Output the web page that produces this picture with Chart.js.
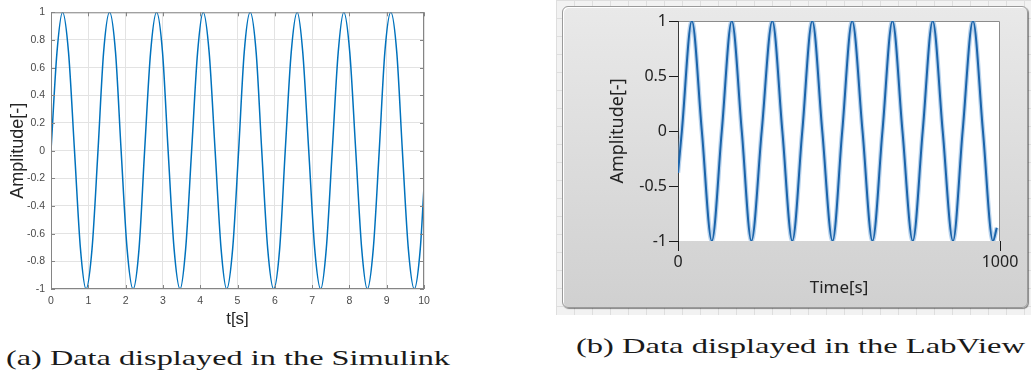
<!DOCTYPE html>
<html>
<head>
<meta charset="utf-8">
<script src="https://cdn.jsdelivr.net/npm/chart.js@4.4.1/dist/chart.umd.min.js"></script>
<style>
  html, body { margin: 0; padding: 0; background: #fff; }
  body { width: 1031px; height: 380px; position: relative; overflow: hidden; }
  #simBox { position: absolute; left: 0; top: 0; width: 440px; height: 335px; }
  #gridBg {
    position: absolute; left: 556px; top: 0; width: 475px; height: 315px;
    background-color: #f2f2f2;
    background-image:
      repeating-linear-gradient(to right, #dedede 0, #dedede 1px, transparent 1px, transparent 18px),
      repeating-linear-gradient(to bottom, #dedede 0, #dedede 1px, transparent 1px, transparent 18px);
  }
  #panel {
    position: absolute; left: 562px; top: 6px; width: 464px; height: 300px;
    border: 1px solid #9a9a9a; border-radius: 6px;
    background: linear-gradient(to bottom, #e9e9e9, #d0d0d0);
    box-shadow: inset 1px 1px 0 #fff, 1px 1px 1px rgba(0,0,0,0.45);
  }
  #lvBox { position: absolute; left: 0; top: 0; width: 464px; height: 300px; }
  .cap {
    position: absolute; font-family: "Liberation Serif", "Times New Roman", serif; font-size: 22px;
    line-height: 22px; color: #1a1a1a; white-space: nowrap; transform-origin: left top;
  }
</style>
</head>
<body>
<div id="simBox"><canvas id="simChart"></canvas></div>
<div id="gridBg"></div>
<div id="panel"><div id="lvBox"><canvas id="lvChart"></canvas></div></div>
<div class="cap" id="capA" style="left:6px; top:347px;">(a) Data displayed in the Simulink</div>
<div class="cap" id="capB" style="left:576px; top:335px;">(b) Data displayed in the LabView</div>

<script>
// ---- (a) Simulink scope: values ----
const simTime = [0, 0.16, 0.31, 0.47, 0.63, 0.79, 0.94, 1.10, 1.26, 1.41, 1.57, 1.73, 1.88, 2.04,
  2.20, 2.36, 2.51, 2.67, 2.83, 2.99, 3.14, 3.30, 3.46, 3.61, 3.77, 3.93, 4.08, 4.24, 4.40, 4.56,
  4.71, 4.87, 5.03, 5.18, 5.34, 5.50, 5.65, 5.81, 5.97, 6.13, 6.28, 6.44, 6.60, 6.75, 6.91, 7.07,
  7.23, 7.38, 7.54, 7.70, 7.85, 8.01, 8.17, 8.33, 8.48, 8.64, 8.80, 8.95, 9.11, 9.27, 9.42, 9.58,
  9.74, 9.90, 10.0];
const simAmp = [0, 0.71, 1, 0.71, 0, -0.71, -1, -0.71, 0, 0.71, 1, 0.71, 0, -0.71,
  -1, -0.71, 0, 0.71, 1, 0.71, 0, -0.71, -1, -0.71, 0, 0.71, 1, 0.71, 0, -0.71,
  -1, -0.71, 0, 0.71, 1, 0.71, 0, -0.71, -1, -0.71, 0, 0.71, 1, 0.71, 0, -0.71,
  -1, -0.71, 0, 0.71, 1, 0.71, 0, -0.71, -1, -0.71, 0, 0.71, 1, 0.71, 0, -0.71,
  -1, -0.71, -0.26];
const simXTicks = [0, 1, 2, 3, 4, 5, 6, 7, 8, 9, 10];

// ---- (b) LabView graph ----
const lvTime = [0, 12, 43, 74, 105, 136, 167, 198, 228, 260, 293, 324, 355, 386, 417, 448,
  480, 510, 541, 573, 604, 635, 666, 697, 729, 760, 791, 822, 854, 884, 916, 947, 978, 990];
const lvAmp = [-0.38, 0, 1, 0, -1, 0, 1, 0, -1, 0, 1, 0, -1, 0, 1, 0,
  -1, 0, 1, 0, -1, 0, 1, 0, -1, 0, 1, 0, -1, 0, 1, 0, -1, -0.88];
const lvXTicks = [0, 1000];
const lvYTicks = [-1, -0.5, 0, 0.5, 1];

const toXY = (xs, ys) => xs.map((x, i) => ({ x: x, y: ys[i] }));
const fmt = v => String(Number(v.toFixed(2)));

// box + inward ticks, MATLAB style
const matlabBox = {
  id: 'matlabBox',
  afterDraw(chart) {
    const { ctx, chartArea: a, scales } = chart;
    ctx.save();
    ctx.strokeStyle = '#858585';
    ctx.lineWidth = 1;
    ctx.strokeRect(a.left + 0.5, a.top + 0.5, a.right - a.left - 1, a.bottom - a.top - 1);
    ctx.beginPath();
    scales.x.ticks.forEach(t => {
      const px = Math.round(scales.x.getPixelForValue(t.value)) + 0.5;
      ctx.moveTo(px, a.top); ctx.lineTo(px, a.top + 4);
      ctx.moveTo(px, a.bottom); ctx.lineTo(px, a.bottom - 4);
    });
    scales.y.ticks.forEach(t => {
      const py = Math.round(scales.y.getPixelForValue(t.value)) + 0.5;
      ctx.moveTo(a.left, py); ctx.lineTo(a.left + 4, py);
      ctx.moveTo(a.right, py); ctx.lineTo(a.right - 4, py);
    });
    ctx.stroke();
    ctx.restore();
  }
};

new Chart(document.getElementById('simChart'), {
  type: 'line',
  data: {
    datasets: [{
      data: toXY(simTime, simAmp),
      borderColor: '#0072bd',
      borderWidth: 1.5,
      pointRadius: 0,
      cubicInterpolationMode: 'monotone',
      fill: false
    }]
  },
  options: {
    responsive: true,
    maintainAspectRatio: false,
    animation: false,
    events: [],
    layout: { padding: { left: 0, top: 12, right: 16, bottom: 0 } },
    plugins: { legend: { display: false }, tooltip: { enabled: false } },
    scales: {
      x: {
        type: 'linear', min: 0, max: 10,
        afterBuildTicks: s => { s.ticks = simXTicks.map(v => ({ value: v })); },
        afterFit: s => { s.height = 46; },
        grid: { color: '#e3e3e3', drawTicks: false },
        border: { display: false },
        ticks: { color: '#4a4a4a', padding: 6, maxRotation: 0, autoSkip: false,
          font: { family: 'Liberation Sans', size: 10.5 }, callback: v => fmt(v) },
        title: { display: true, text: 't[s]', color: '#262626',
          font: { family: 'Liberation Sans', size: 17 }, padding: { top: 0, bottom: 5 } }
      },
      y: {
        min: -1, max: 1,
        ticks: { stepSize: 0.2, color: '#4a4a4a', padding: 6,
          font: { family: 'Liberation Sans', size: 10.5 }, callback: v => fmt(v) },
        afterFit: s => { s.width = 51; },
        grid: { color: '#e3e3e3', drawTicks: false },
        border: { display: false },
        title: { display: true, text: 'Amplitude[-]', color: '#262626',
          font: { family: 'Liberation Sans', size: 18 }, padding: { top: 7, bottom: 0 } }
      }
    }
  },
  plugins: [matlabBox]
});

// white plot area and frame, LabView style
const lvFrame = {
  id: 'lvFrame',
  beforeDatasetsDraw(chart) {
    const { ctx, chartArea: a } = chart;
    ctx.save();
    ctx.fillStyle = '#ffffff';
    ctx.fillRect(a.left, a.top, a.right - a.left, a.bottom - a.top);
    ctx.strokeStyle = '#8c8c8c';
    ctx.lineWidth = 1;
    ctx.beginPath();
    ctx.moveTo(a.left, a.top + 0.5); ctx.lineTo(a.right - 0.5, a.top + 0.5); ctx.lineTo(a.right - 0.5, a.bottom);
    ctx.stroke();
    ctx.strokeStyle = '#3a3a3a';
    ctx.beginPath();
    ctx.moveTo(a.left + 0.5, a.top); ctx.lineTo(a.left + 0.5, a.bottom);
    ctx.stroke();
    ctx.restore();
  }
};

const lvPoints = toXY(lvTime, lvAmp);
new Chart(document.getElementById('lvChart'), {
  type: 'line',
  data: {
    datasets: [{
      data: lvPoints,
      borderColor: '#1b64aa',
      borderWidth: 2,
      pointRadius: 0,
      cubicInterpolationMode: 'monotone',
      fill: false
    }, {
      data: lvPoints,
      borderColor: 'rgba(120,170,220,0.5)',
      borderWidth: 4.5,
      pointRadius: 0,
      cubicInterpolationMode: 'monotone',
      fill: false
    }]
  },
  options: {
    responsive: true,
    maintainAspectRatio: false,
    animation: false,
    events: [],
    layout: { padding: { left: 0, top: 14, right: 27, bottom: 0 } },
    plugins: { legend: { display: false }, tooltip: { enabled: false } },
    scales: {
      x: {
        type: 'linear', min: 0, max: 1000,
        afterBuildTicks: s => { s.ticks = lvXTicks.map(v => ({ value: v })); },
        afterFit: s => { s.height = 66; },
        grid: { drawOnChartArea: false, drawTicks: true, tickLength: 10, color: '#1a1a1a' },
        border: { display: false },
        ticks: { color: '#222', padding: 2, maxRotation: 0, autoSkip: false,
          font: { family: 'Noto Sans', size: 16 }, callback: v => String(v) },
        title: { display: true, text: 'Time[s]', color: '#222',
          font: { family: 'Noto Sans', size: 17 }, padding: { top: 0, bottom: 9 } }
      },
      y: {
        min: -1, max: 1,
        afterBuildTicks: s => { s.ticks = lvYTicks.map(v => ({ value: v })); },
        afterFit: s => { s.width = 115; },
        grid: { drawOnChartArea: false, drawTicks: true, tickLength: 9, color: '#1a1a1a' },
        border: { display: false },
        ticks: { color: '#222', padding: 2, font: { family: 'Noto Sans', size: 16 },
          callback: v => fmt(v) },
        title: { display: true, text: 'Amplitude[-]', color: '#222',
          font: { family: 'Noto Sans', size: 18 }, padding: { top: 44, bottom: 0 } }
      }
    }
  },
  plugins: [lvFrame]
});

// stretch captions to the widths seen in the picture
function fitCaption(id, target) {
  const el = document.getElementById(id);
  const w = el.getBoundingClientRect().width;
  if (w > 0) el.style.transform = 'scaleX(' + (target / w) + ')';
}
fitCaption('capA', 444);
fitCaption('capB', 449);
</script>
</body>
</html>
